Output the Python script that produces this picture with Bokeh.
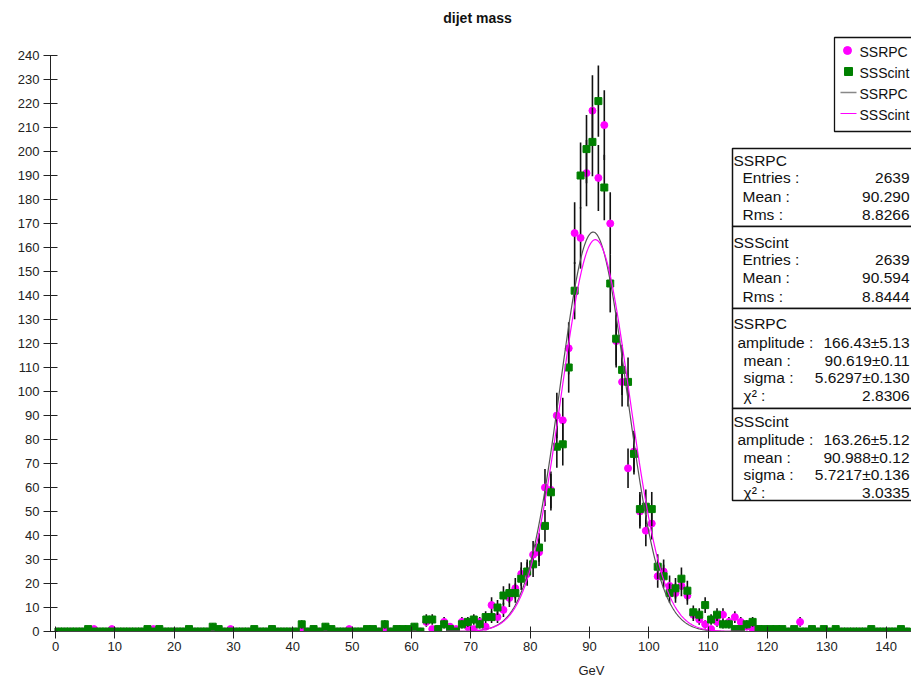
import numpy as np
from bokeh.plotting import figure
from bokeh.models import ColumnDataSource, Label, FixedTicker, Title
from bokeh.embed import file_html
from bokeh.resources import INLINE

# ---------------- data ----------------
bin_width = 1.0
first_bin_low = 0.0

# SSRPC (magenta circles) counts per 1 GeV bin, bins 0..143
ssrpc_counts = [
    0, 0, 0, 0, 0, 0, 1, 0, 0, 1,
    0, 0, 0, 0, 0, 0, 1, 0, 0, 0,
    0, 0, 0, 0, 0, 0, 0, 0, 0, 1,
    0, 0, 0, 0, 0, 0, 1, 0, 0, 0,
    0, 1, 0, 1, 0, 0, 0, 0, 0, 1,
    0, 0, 0, 0, 0, 1, 0, 1, 0, 0,
    1, 0, 4, 1, 1, 4, 2, 1, 4, 2,
    1, 4, 2, 11, 6, 9, 14, 18, 24, 24,
    32, 33, 60, 59, 90, 88, 118, 166, 164, 191,
    217, 189, 211, 170, 121, 104, 68, 75, 50, 42,
    45, 23, 25, 19, 16, 19, 15, 7, 5, 3,
    1, 4, 7, 4, 6, 4, 2, 1, 1, 0,
    0, 0, 0, 0, 0, 4, 0, 0, 0, 0,
    0, 0, 0, 0, 0, 0, 0, 0, 0, 0,
    0, 0, 0, 0,
]

# SSScint (green squares) counts per 1 GeV bin, bins 0..143
ssscint_counts = [
    0, 0, 0, 0, 0, 1, 0, 0, 0, 0,
    0, 0, 0, 0, 0, 1, 0, 1, 0, 0,
    0, 0, 1, 0, 0, 0, 2, 1, 0, 0,
    0, 0, 0, 1, 0, 0, 1, 0, 0, 0,
    0, 3, 0, 1, 0, 2, 1, 0, 0, 0,
    0, 0, 1, 1, 0, 3, 0, 1, 1, 1,
    2, 0, 5, 5, 1, 3, 1, 0, 3, 4,
    5, 3, 6, 6, 10, 15, 16, 16, 22, 25,
    28, 35, 44, 58, 77, 78, 110, 142, 190, 201,
    204, 221, 185, 145, 122, 109, 104, 74, 51, 52,
    51, 27, 23, 16, 18, 22, 17, 8, 7, 11,
    5, 7, 3, 3, 1, 1, 3, 4, 1, 1,
    1, 1, 1, 0, 1, 0, 0, 1, 0, 1,
    0, 1, 0, 0, 0, 0, 0, 1, 0, 0,
    0, 0, 1, 0,
]

# Gaussian fit results (from the fit boxes)
fit_names = ["SSRPC", "SSScint"]
fit_amplitude = [166.43, 163.26]
fit_mean = [90.619, 90.988]
fit_sigma = [5.6297, 5.7217]

# Stat box texts
stat_entries = ["2639", "2639"]
stat_mean = ["90.290", "90.594"]
stat_rms = ["8.8266", "8.8444"]
fit_amp_txt = ["166.43±5.13", "163.26±5.12"]
fit_mean_txt = ["90.619±0.11", "90.988±0.12"]
fit_sigma_txt = ["5.6297±0.130", "5.7217±0.136"]
fit_chi2_txt = ["2.8306", "3.0335"]

x_ticks = list(range(0, 150, 10))
y_ticks = list(range(0, 241, 10))

# ---------------- layout helpers (picture pixel -> data) ----------------
W, H = 911, 678
SX = 5.933          # px per GeV
SY = 2.4            # px per count
X0 = 55.0           # px of x = 0
Y0 = 631.0          # px of y = 0
LEFT = 50           # px of the y axis


def X(px):
    return (px - X0) / SX


def Y(py):
    return (Y0 - py) / SY


x_start, x_end = X(LEFT), X(W)
y_start, y_end = 0.0, Y(0)

MAG = "#ff00ff"
GRN = "#008000"
FONT = "Liberation Sans"
TXT = "#111111"

p = figure(width=W, height=H, x_range=(x_start, x_end), y_range=(y_start, y_end),
           output_backend="svg", toolbar_location=None,
           min_border_left=LEFT, min_border_right=0, min_border_top=0,
           min_border_bottom=H - int(Y0))
p.grid.visible = False
p.outline_line_color = None
p.background_fill_color = "white"
p.border_fill_color = "white"

# axes
p.xaxis.ticker = FixedTicker(ticks=x_ticks)
p.xaxis.major_tick_in = 5
p.xaxis.major_tick_out = 7
p.xaxis.minor_tick_line_color = None
p.xaxis.axis_line_color = "#444444"
p.xaxis.major_tick_line_color = "#222222"
p.xaxis.major_label_text_font = FONT
p.xaxis.major_label_text_font_size = "13px"
p.xaxis.major_label_text_color = "#222222"
p.xaxis.major_label_standoff = 3

p.yaxis.ticker = FixedTicker(ticks=y_ticks)
p.yaxis.bounds = (0, 240)
p.yaxis.major_tick_in = 7
p.yaxis.major_tick_out = 7
p.yaxis.minor_tick_line_color = None
p.yaxis.axis_line_color = "#222222"
p.yaxis.major_tick_line_color = "#222222"
p.yaxis.major_label_text_font = FONT
p.yaxis.major_label_text_font_size = "13px"
p.yaxis.major_label_text_color = "#222222"
p.yaxis.major_label_standoff = 4

# small spacer, then x-axis title "GeV" (left-aligned with an offset)
p.add_layout(Title(text=" ", align="left", standoff=0, text_font=FONT,
                   text_font_size="4px", text_color="white"), "below")
p.add_layout(Title(text="GeV", align="left", offset=590 - LEFT - 12, standoff=0,
                   text_font=FONT, text_font_size="13px", text_font_style="normal",
                   text_color="#222222"), "below")

# ---------------- histograms ----------------
def hist_source(counts):
    c = np.array(counts, dtype=float)
    centers = first_bin_low + bin_width * (np.arange(len(c)) + 0.5)
    err = np.sqrt(c)
    return ColumnDataSource(dict(x=centers, y=c, lo=c - err, hi=c + err))


src_rpc = hist_source(ssrpc_counts)
src_sci = hist_source(ssscint_counts)

p.segment(x0="x", y0="lo", x1="x", y1="hi", source=src_rpc, line_color="#111111", line_width=1.6)
p.scatter(x="x", y="y", source=src_rpc, marker="circle", size=7,
          fill_color=MAG, line_color=MAG)
p.segment(x0="x", y0="lo", x1="x", y1="hi", source=src_sci, line_color="#111111", line_width=1.6)
p.scatter(x="x", y="y", source=src_sci, marker="square", size=7,
          fill_color=GRN, line_color=GRN)

# ---------------- fit curves ----------------
xc = np.linspace(x_start, x_end, 1200)
curve_colors = ["#555555", MAG]
for a, m, s, col in zip(fit_amplitude, fit_mean, fit_sigma, curve_colors):
    yc = a * np.exp(-0.5 * ((xc - m) / s) ** 2)
    p.line(xc, yc, line_color=col, line_width=1.2)

# ---------------- title ----------------
p.add_layout(Label(x=X(477), y=Y(17), text="dijet mass", text_font=FONT,
                   text_font_size="14px", text_font_style="bold",
                   text_align="center", text_baseline="middle", text_color=TXT))

# ---------------- legend ----------------
right_edge = x_end + 3
p.quad(left=[X(834)], right=[right_edge], top=[Y(37)], bottom=[Y(131)],
       fill_color="white", line_color=TXT, line_width=1.3)
p.scatter([X(847)], [Y(50)], marker="circle", size=8, fill_color=MAG, line_color=MAG)
p.scatter([X(848)], [Y(71)], marker="square", size=8, fill_color=GRN, line_color=GRN)
p.segment(x0=[X(840)], y0=[Y(92)], x1=[X(856)], y1=[Y(92)], line_color="#888888", line_width=1.5)
p.segment(x0=[X(840)], y0=[Y(113)], x1=[X(856)], y1=[Y(113)], line_color=MAG, line_width=1.2)
leg_texts = [fit_names[0], fit_names[1], fit_names[0], fit_names[1]]
leg_y = [51, 72, 93, 114]
for t, yy in zip(leg_texts, leg_y):
    p.add_layout(Label(x=X(859), y=Y(yy), text=t, text_font=FONT, text_font_size="14px",
                       text_align="left", text_baseline="middle", text_color=TXT))

# ---------------- stat / fit boxes ----------------
box_edges = [148, 226, 308, 408, 500]
for i in range(4):
    p.quad(left=[X(732)], right=[right_edge], top=[Y(box_edges[i])], bottom=[Y(box_edges[i + 1])],
           fill_color="white", line_color=TXT, line_width=1.5)


def txt(x_px, y_px, t, align="left"):
    p.add_layout(Label(x=X(x_px), y=Y(y_px), text=t, text_font=FONT, text_font_size="15.5px",
                       text_align=align, text_baseline="middle", text_color=TXT))


VAL_X = 909
stat_rows = [(160, 177, 196, 214), (242, 259, 277, 296)]
for k in range(2):
    yh, ye, ym, yr = stat_rows[k]
    txt(733, yh, fit_names[k])
    txt(742, ye, "Entries :")
    txt(VAL_X, ye, stat_entries[k], "right")
    txt(742, ym, "Mean :")
    txt(VAL_X, ym, stat_mean[k], "right")
    txt(742, yr, "Rms :")
    txt(VAL_X, yr, stat_rms[k], "right")

fit_rows = [(323, 342, 360, 377, 395), (421, 439, 457, 474, 492)]
for k in range(2):
    yh, ya, ym, ys, yc2 = fit_rows[k]
    txt(733, yh, fit_names[k])
    txt(737, ya, "amplitude :")
    txt(VAL_X, ya, fit_amp_txt[k], "right")
    txt(743, ym, "mean :")
    txt(VAL_X, ym, fit_mean_txt[k], "right")
    txt(743, ys, "sigma :")
    txt(VAL_X, ys, fit_sigma_txt[k], "right")
    txt(743, yc2, "χ² :")
    txt(VAL_X, yc2, fit_chi2_txt[k], "right")

open("out.html", "w").write(file_html(p, INLINE))
